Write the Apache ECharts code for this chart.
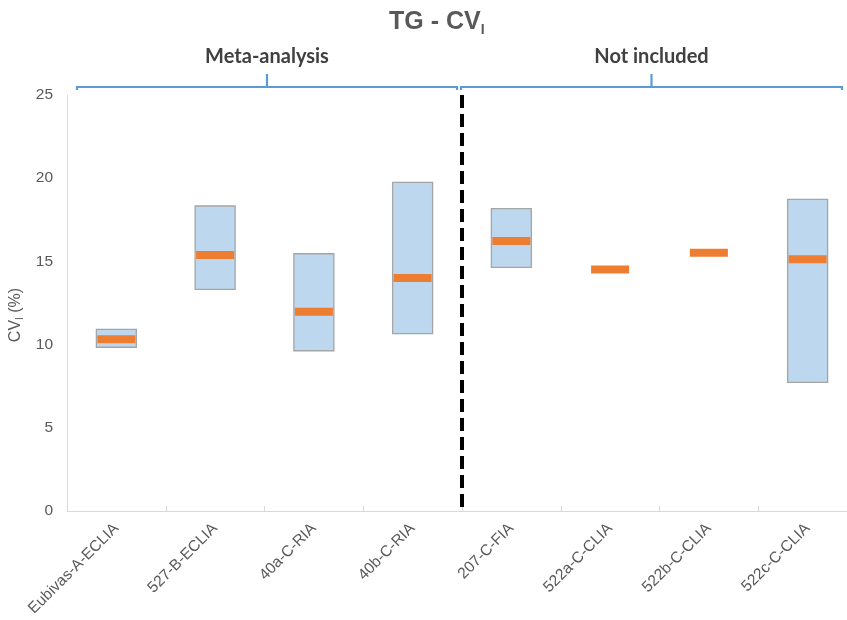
<!DOCTYPE html>
<html><head><meta charset="utf-8">
<script src="https://cdn.jsdelivr.net/npm/echarts@6/dist/echarts.min.js"></script>
<style>html,body{margin:0;padding:0;background:#fff}#c{width:847px;height:620px}</style>
</head><body><div id="c"></div>
<script>
// ---- data ----
const categories = ['Eubivas-A-ECLIA','527-B-ECLIA','40a-C-RIA','40b-C-RIA','207-C-FIA','522a-C-CLIA','522b-C-CLIA','522c-C-CLIA'];
const rangeLow  = [9.84, 13.32, 9.63, 10.66, 14.64, null, null, 7.73];
const rangeHigh = [10.92, 18.33, 15.46, 19.75, 18.17, null, null, 18.73];
const medians   = [10.32, 15.38, 11.98, 14.00, 16.23, 14.52, 15.52, 15.13];
const yMin = 0, yMax = 25, yInterval = 5;
const groupNames = ['Meta-analysis', 'Not included'];
const groupFrom = [0, 4];
const groupTo = [3, 7];
const dividerAfter = 3;

// ---- styles ----
const braceInsets = [[10, 5], [-1, 15]];
const txt = '#595959';
const font = 'Liberation Sans, Arial, sans-serif';

const boxData = [];
categories.forEach((c, i) => { if (rangeLow[i] != null && rangeHigh[i] != null) boxData.push([i, rangeLow[i], rangeHigh[i]]); });
const medData = medians.map((m, i) => [i, m]);
const groupData = groupNames.map((g, i) => [groupFrom[i], groupTo[i], i]);

const chart = echarts.init(document.getElementById('c'), null, {renderer: 'canvas'});
chart.setOption({
  animation: false,
  backgroundColor: '#fff',
  title: {
    text: '{a|TG - CV}{s|I}',
    left: 384, top: 2,
    textStyle: {
      rich: {
        a: {fontSize: 25, fontWeight: 'bold', color: txt, fontFamily: font, lineHeight: 30},
        s: {fontSize: 14, fontWeight: 'bold', color: txt, fontFamily: font, lineHeight: 10, verticalAlign: 'bottom'}
      }
    }
  },
  grid: {left: 67, top: 95, width: 790, height: 416, containLabel: false, outerBoundsMode: 'none'},
  xAxis: {
    type: 'category', data: categories,
    axisLine: {lineStyle: {color: '#D9D9D9', width: 1}},
    axisTick: {show: true, inside: true, length: 5, lineStyle: {color: '#D9D9D9'}},
    axisLabel: {rotate: 45, color: txt, fontSize: 15.5, fontFamily: font, margin: 15, interval: 0},
    splitLine: {show: false}
  },
  yAxis: {
    type: 'value', min: yMin, max: yMax, interval: yInterval,
    axisLine: {show: true, lineStyle: {color: '#D9D9D9'}},
    axisTick: {show: false},
    splitLine: {show: false},
    axisLabel: {color: txt, fontSize: 15.5, fontFamily: font, margin: 14},
    name: '{a|CV}{s|I}{a| (%)}',
    nameLocation: 'middle', nameRotate: 90, nameGap: 42,
    nameTextStyle: {
      padding: [0, 24, 0, 0],
      rich: {
        a: {fontSize: 16, color: txt, fontFamily: font, lineHeight: 19},
        s: {fontSize: 10, color: txt, fontFamily: font, lineHeight: 8, verticalAlign: 'bottom'}
      }
    }
  },
  series: [
    {
      type: 'custom', name: 'range', data: boxData, encode: {x: 0, y: [1, 2]}, silent: true,
      renderItem: function (params, api) {
        const band = api.size([1, 0])[0];
        const w = band * 0.405;
        const pHi = api.coord([api.value(0), api.value(2)]);
        const pLo = api.coord([api.value(0), api.value(1)]);
        return {type: 'rect', shape: {x: pHi[0] - w / 2, y: pHi[1], width: w, height: pLo[1] - pHi[1]},
          style: {fill: '#BDD7EE', stroke: '#A5A5A5', lineWidth: 1.3}};
      }
    },
    {
      type: 'custom', name: 'median', data: medData, encode: {x: 0, y: 1}, silent: true,
      renderItem: function (params, api) {
        const band = api.size([1, 0])[0];
        const w = band * 0.385;
        const p = api.coord([api.value(0), api.value(1)]);
        return {type: 'rect', shape: {x: p[0] - w / 2, y: p[1] - 4, width: w, height: 8},
          style: {fill: '#ED7D31'}};
      }
    },
    {
      type: 'custom', name: 'divider', data: [[dividerAfter, yMax]], encode: {x: 0, y: 1}, silent: true,
      renderItem: function (params, api) {
        const band = api.size([1, 0])[0];
        const top = api.coord([api.value(0), yMax]);
        const bot = api.coord([api.value(0), yMin]);
        const x = top[0] + band / 2;
        return {type: 'line', shape: {x1: x, y1: top[1], x2: x, y2: bot[1]},
          style: {stroke: '#000', lineWidth: 4, lineDash: [13, 6]}};
      }
    },
    {
      type: 'custom', name: 'groups', data: groupData, encode: {x: 0}, silent: true, clip: false,
      renderItem: function (params, api) {
        const band = api.size([1, 0])[0];
        const idx = api.value(2);
        const ins = braceInsets[idx];
        const a = api.coord([api.value(0), yMax])[0] - band / 2 + ins[0];
        const b = api.coord([api.value(1), yMax])[0] + band / 2 - ins[1];
        const top = api.coord([0, yMax])[1];
        const y = top - 8;
        const m = (a + b) / 2;
        const ls = {stroke: '#5B9BD5', lineWidth: 2.2, fill: null};
        return {type: 'group', children: [
          {type: 'polyline', shape: {points: [[a, y + 3], [a, y], [b, y], [b, y + 3]]}, style: ls},
          {type: 'line', shape: {x1: m, y1: y, x2: m, y2: y - 13}, style: ls},
          {type: 'text', x: m, y: y - 30, style: {text: groupNames[idx], fill: '#404040', fontSize: 20, fontWeight: 'bold',
            fontFamily: 'Lato, Open Sans, sans-serif', align: 'center', verticalAlign: 'middle'}}
        ]};
      }
    }
  ]
});
</script></body></html>
